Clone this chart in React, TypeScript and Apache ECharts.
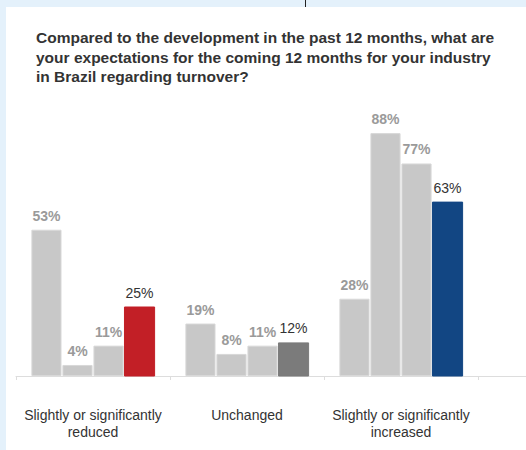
import React, { useEffect, useRef } from "react";
import * as echarts from "echarts";

const categories = ["Slightly or significantly\nreduced", "Unchanged", "Slightly or significantly\nincreased"];
const series1 = [53, 19, 28];
const series2 = [4, 8, 88];
const series3 = [11, 11, 77];
const series4 = [25, 12, 63];
const highlightColors = ["#c21f26", "#7b7b7b", "#124683"];
const titleText = "Compared to the development in the past 12 months, what are\nyour expectations for the coming 12 months for your industry\nin Brazil regarding turnover?";

export default function App() {
  const ref = useRef<HTMLDivElement>(null);
  useEffect(() => {
    const chart = echarts.init(ref.current!, null, { renderer: "svg" });
    const grayLabel = {
      show: true,
      position: "top" as const,
      distance: 7,
      formatter: "{c}%",
      color: "#9a9a9a",
      fontSize: 14,
      fontWeight: "bold" as const,
      fontFamily: "Liberation Sans, Arial, sans-serif",
    };
    const graySeries = (data: number[]) => ({
      type: "bar" as const,
      data,
      barGap: "3%",
      barCategoryGap: "20%",
      itemStyle: { color: "#c8c8c8", borderColor: "#d8d8d8", borderWidth: 1 },
      label: grayLabel,
    });
    chart.setOption({
      animation: false,
      backgroundColor: "#ffffff",
      title: {
        text: titleText,
        left: 25,
        top: 16,
        textStyle: {
          fontSize: 15.5,
          fontWeight: "bold",
          color: "#333333",
          lineHeight: 19.5,
          fontFamily: "Liberation Sans, Arial, sans-serif",
        },
      },
      grid: { left: 10, right: 48, top: 93, bottom: 74, containLabel: false },
      xAxis: {
        type: "category",
        data: categories,
        axisLine: { lineStyle: { color: "#dddddd" } },
        axisTick: { show: true, length: 4, lineStyle: { color: "#dddddd" } },
        axisLabel: {
          interval: 0,
          margin: 30,
          fontSize: 14,
          color: "#333333",
          lineHeight: 17,
          fontFamily: "Liberation Sans, Arial, sans-serif",
        },
      },
      yAxis: { type: "value", min: 0, max: 100, show: false, splitLine: { show: false } },
      series: [
        graySeries(series1),
        graySeries(series2),
        graySeries(series3),
        {
          type: "bar",
          data: series4.map((v, i) => ({ value: v, itemStyle: { color: highlightColors[i], borderColor: highlightColors[i] } })),
          barGap: "3%",
          barCategoryGap: "20%",
          label: { ...grayLabel, color: "#333333", fontWeight: "normal" },
        },
      ],
      graphic: [
        { type: "line", shape: { x1: 472, y1: 369.5, x2: 520, y2: 369.5 }, style: { stroke: "#dddddd", lineWidth: 1 } },
      ],
    });
    return () => chart.dispose();
  }, []);
  return (
    <div style={{ position: "fixed", inset: 0, background: "#e4f1fb" }}>
      <div style={{ position: "absolute", left: 305, top: 0, width: 1, height: 7, background: "#222" }} />
      <div ref={ref} style={{ position: "absolute", left: 6, top: 7, width: 520, height: 443 }} />
    </div>
  );
}
